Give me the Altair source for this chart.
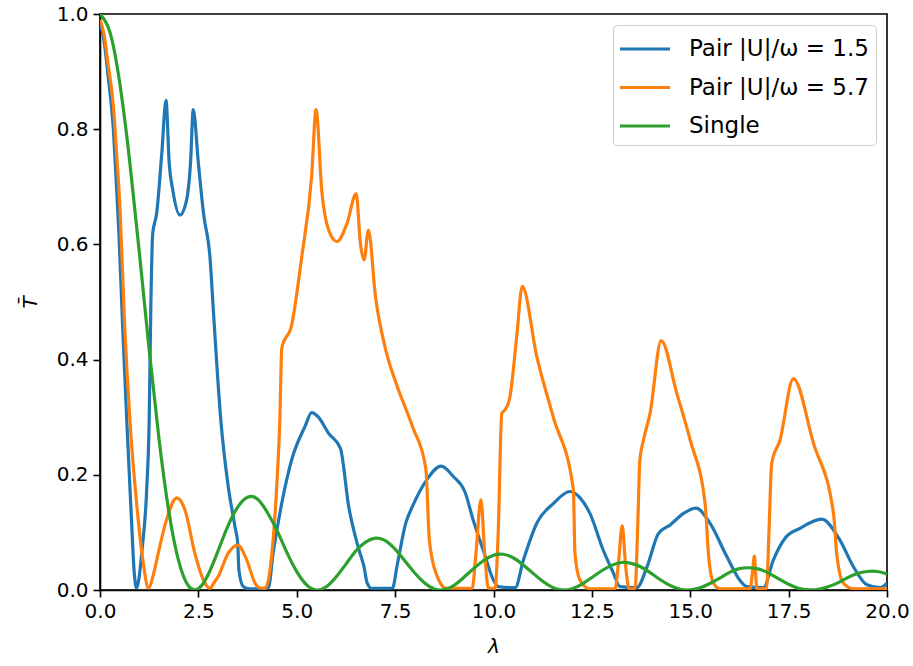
import altair as alt
import pandas as pd

# ---- data ----
blue_x = [0.0, 0.1, 0.21, 0.34, 0.42, 0.48, 0.58, 0.68, 0.80, 0.87, 0.93, 0.99, 1.06, 1.19, 1.25,
          1.29, 1.34, 1.44, 1.57, 1.677, 1.76, 1.85, 2.03, 2.2, 2.30, 2.37, 2.50, 2.63, 2.80, 2.88,
          3.07, 3.26, 3.43, 3.50, 3.53, 3.64, 3.8, 4.0, 4.28, 4.40, 4.62, 4.87, 5.21, 5.38, 5.55,
          5.81, 6.11, 6.32, 6.58, 6.71, 6.79, 6.9, 7.43, 7.56, 7.77, 7.94, 8.29, 8.67, 8.98, 9.27,
          9.49, 9.74, 10.0, 10.12, 10.55, 10.76, 11.1, 11.52, 11.94, 12.2, 12.45, 12.79, 13.05, 13.21,
          13.64, 13.9, 14.19, 14.49, 14.83, 15.15, 15.5, 15.93, 16.26, 16.44, 16.86, 17.11, 17.41,
          17.79, 18.34, 18.8, 19.15, 19.49, 19.83, 20.0]
blue_y = [0.985, 0.955, 0.89, 0.80, 0.70, 0.62, 0.45, 0.295, 0.122, 0.03, 0.003, 0.02, 0.064, 0.179, 0.295,
          0.486, 0.619, 0.654, 0.758, 0.85, 0.74, 0.694, 0.651, 0.677, 0.741, 0.834, 0.741, 0.654, 0.573, 0.486,
          0.295, 0.179, 0.11, 0.081, 0.035, 0.006, 0.002, 0.002, 0.004, 0.064, 0.151, 0.226, 0.284, 0.308, 0.30,
          0.272, 0.246, 0.145, 0.07, 0.04, 0.012, 0.003, 0.003, 0.046, 0.116, 0.145, 0.19, 0.215, 0.197, 0.171,
          0.12, 0.069, 0.017, 0.006, 0.004, 0.052, 0.116, 0.15, 0.171, 0.16, 0.133, 0.069, 0.029, 0.006,
          0.004, 0.04, 0.098, 0.113, 0.133, 0.142, 0.116, 0.058, 0.017, 0.006, 0.004, 0.052, 0.09,
          0.107, 0.123, 0.087, 0.04, 0.009, 0.004, 0.012]

orange_x = [0.0, 0.1, 0.21, 0.34, 0.42, 0.51, 0.62, 0.76, 0.93, 1.1, 1.23, 1.35, 1.48, 1.69, 1.95,
            2.16, 2.41, 2.63, 2.80, 2.89, 3.0, 3.26, 3.50, 3.73, 3.94, 4.05, 4.2, 4.32, 4.49, 4.57,
            4.62, 4.87, 5.13, 5.38, 5.49, 5.64, 5.81, 6.02, 6.28, 6.51, 6.62, 6.71, 6.82, 7.0, 7.26,
            7.52, 7.94, 8.28, 8.37, 8.54, 8.8, 9.46, 9.55, 9.68, 9.78, 9.87, 10.04, 10.12, 10.21, 10.29,
            10.42, 10.59, 10.73, 11.1, 11.52, 12.03, 12.07, 12.2, 12.45, 13.09, 13.18, 13.27, 13.36,
            13.45, 13.6, 13.66, 13.72, 13.81, 13.98, 14.26, 14.66, 15.0, 15.38, 15.46, 15.59, 15.76,
            16.52, 16.58, 16.63, 16.66, 16.69, 16.94, 17.0, 17.07, 17.28, 17.62, 18.13, 18.64, 18.72,
            18.89, 19.15, 20.0]
orange_y = [0.99, 0.965, 0.91, 0.84, 0.76, 0.66, 0.47, 0.295, 0.151, 0.047, 0.003, 0.025, 0.064, 0.122, 0.160,
            0.139, 0.064, 0.017, 0.003, 0.012, 0.023, 0.064, 0.078, 0.052, 0.012, 0.004, 0.003, 0.035, 0.179, 0.295,
            0.42, 0.46, 0.58, 0.72, 0.834, 0.69, 0.625, 0.605, 0.637, 0.688, 0.60, 0.573, 0.625, 0.51, 0.417,
            0.36, 0.284, 0.211, 0.087, 0.029, 0.003, 0.003, 0.06, 0.157, 0.06, 0.003, 0.003, 0.1, 0.307, 0.3125,
            0.336, 0.44, 0.527, 0.405, 0.30, 0.174, 0.064, 0.017, 0.002, 0.002, 0.05, 0.112, 0.04,
            0.002, 0.003, 0.1, 0.226, 0.26, 0.307, 0.433, 0.341, 0.26, 0.148, 0.064, 0.012, 0.002,
            0.002, 0.03, 0.059, 0.03, 0.002, 0.003, 0.1, 0.22, 0.26, 0.367, 0.255, 0.133, 0.064,
            0.012, 0.002, 0.002]

green_x = [0.0, 0.25, 0.5, 0.75, 1.0, 1.25, 1.5, 1.75, 2.0, 2.25, 2.5, 2.75, 3.0, 3.25, 3.5, 3.75,
           4.0, 4.25, 4.5, 4.75, 5.0, 5.25, 5.5, 5.75, 6.0, 6.25, 6.5, 6.75, 7.0, 7.25, 7.5, 7.75,
           8.0, 8.25, 8.5, 8.75, 9.0, 9.25, 9.5, 9.75, 10.0, 10.25, 10.5, 10.75, 11.0, 11.25, 11.5,
           11.75, 12.0, 12.25, 12.5, 12.75, 13.0, 13.25, 13.5, 13.75, 14.0, 14.25, 14.5, 14.75, 15.0,
           15.25, 15.5, 15.75, 16.0, 16.25, 16.5, 16.75, 17.0, 17.25, 17.5, 17.75, 18.0, 18.25, 18.5,
           18.75, 19.0, 19.25, 19.5, 19.75, 20.0]
green_y = [1.0, 0.969, 0.881, 0.747, 0.586, 0.417, 0.262, 0.136, 0.050, 0.0068, 0.0023, 0.027, 0.068, 0.111,
           0.144, 0.161, 0.158, 0.135, 0.103, 0.065, 0.032, 0.009, 0.0, 0.0057, 0.0227, 0.0449, 0.0677,
           0.0831, 0.090, 0.0859, 0.0709, 0.0504, 0.0295, 0.0122, 0.0018, 0.0006, 0.0082, 0.0222, 0.0376,
           0.0513, 0.0605, 0.0620, 0.0560, 0.0440, 0.0293, 0.0152, 0.0046, 0.0001, 0.0023, 0.0103, 0.0216,
           0.0334, 0.0428, 0.0477, 0.0462, 0.040, 0.0293, 0.0174, 0.0075, 0.0014, 0.0002, 0.0039, 0.0113,
           0.0205, 0.0306, 0.0372, 0.0386, 0.0362, 0.0289, 0.0194, 0.0100, 0.0030, 0.0002, 0.0011, 0.0056,
           0.0124, 0.0215, 0.0286, 0.0321, 0.0321, 0.0279]

series_names = ["Pair |U|/ω = 1.5", "Pair |U|/ω = 5.7", "Single"]
series_colors = ["#1f77b4", "#ff7f0e", "#2ca02c"]
x_ticks = [0, 2.5, 5, 7.5, 10, 12.5, 15, 17.5, 20]
y_ticks = [0, 0.2, 0.4, 0.6, 0.8, 1.0]

def series_frame(name, xs, ys):
    return pd.DataFrame({"lam": xs, "T": ys, "series": name, "order": range(len(xs))})

pair_df = pd.concat([series_frame(series_names[0], blue_x, blue_y),
                     series_frame(series_names[1], orange_x, orange_y)], ignore_index=True)
single_df = series_frame(series_names[2], green_x, green_y)

FONT = "DejaVu Sans"

x_enc = alt.X("lam:Q",
              scale=alt.Scale(domain=[0, 20], nice=False, zero=False),
              axis=alt.Axis(values=x_ticks, format=".1f", title="λ", labelFlush=False,
                            labelOverlap=False, titlePadding=15, labelPadding=4))
y_enc = alt.Y("T:Q",
              scale=alt.Scale(domain=[0, 1], nice=False),
              axis=alt.Axis(values=y_ticks, format=".1f", title="T̄", labelPadding=5,
                            titlePadding=16))
c_enc = alt.Color("series:N",
                  scale=alt.Scale(domain=series_names, range=series_colors),
                  legend=alt.Legend(title=None, orient="none", legendX=513, legendY=11,
                                    direction="vertical"))

pairs = alt.Chart(pair_df).mark_line(strokeWidth=3.2, interpolate="monotone", clip=True).encode(
    x=x_enc, y=y_enc, color=c_enc, detail="series:N", order="order:Q")
single = alt.Chart(single_df).mark_line(strokeWidth=3.2, interpolate="natural", clip=True).encode(
    x=x_enc, y=y_enc, color=c_enc, order="order:Q")

chart = alt.layer(pairs, single).properties(
    width=787, height=576,
    autosize=alt.AutoSizeParams(type="none"),
    padding={"left": 100, "top": 14, "right": 26, "bottom": 76},
).configure_view(
    stroke="black", strokeWidth=1.6
).configure_axis(
    grid=False, domainColor="black", domainWidth=1.6, tickColor="black", tickWidth=1.6,
    tickSize=7, labelFont=FONT, labelFontSize=20, labelColor="black",
    titleFont=FONT, titleFontSize=20, titleFontWeight="normal", titleFontStyle="italic",
    titleColor="black"
).configure_legend(
    symbolType="M-1.667,0L1.667,0", symbolSize=900, symbolStrokeWidth=3.2, symbolOffset=8,
    labelOffset=27, rowPadding=9.5, padding=7,
    strokeColor="#cccccc", fillColor="white", cornerRadius=4,
    labelFont=FONT, labelFontSize=23, labelColor="black", labelLimit=400
)

chart.save("out.html", embed_options={"renderer": "svg", "actions": False})
